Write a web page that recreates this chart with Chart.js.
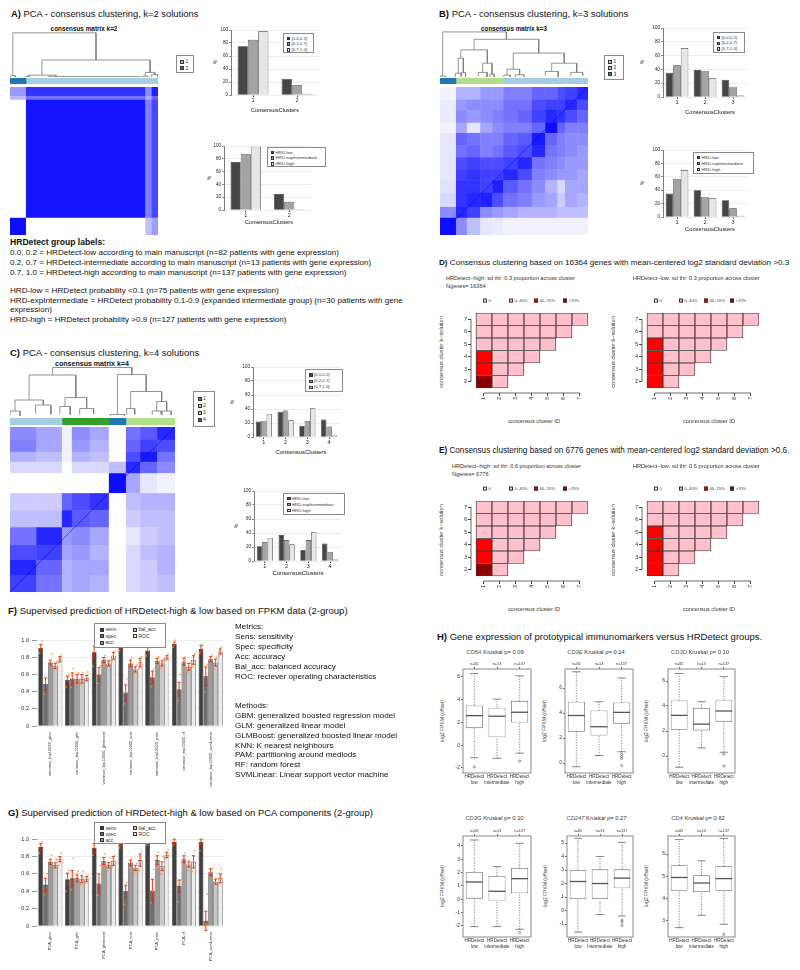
<!DOCTYPE html>
<html>
<head>
<meta charset="utf-8">
<title>PCA consensus clustering and HRDetect prediction</title>
<script src="https://cdn.jsdelivr.net/npm/chart.js@4.4.1/dist/chart.umd.min.js"></script>
<style>
  body { margin: 0; background: #fff; }
  #page { position: relative; width: 800px; height: 970px; overflow: hidden; background: #fff;
          font-family: "Liberation Sans", Arial, Helvetica, sans-serif; color: #111; }
  #page canvas { position: absolute; }
  .t { position: absolute; white-space: nowrap; line-height: 1.15; }
  .lg { position: absolute; border: 0.8px solid #8a8a8a; background: #fff; box-sizing: border-box; }
  .li { position: absolute; white-space: nowrap; line-height: 1; display: flex; align-items: center; color: #333; }
  .sw { display: inline-block; box-sizing: border-box; border: 0.6px solid #333; margin-right: 1.5px; }
</style>
</head>
<body>
<div id="page"></div>
<script>
// ---------------- data ----------------
const nSamples = 232;

const hrdBins = ['[0.0,0.2)', '[0.2,0.7)', '[0.7,1.0]'];
const hrdGroups = ['HRD-low', 'HRD-expIntermediate', 'HRD-high'];
const pctTicks = [0, 20, 40, 60, 80, 100];

// A) k=2
const clustersK2 = ['1', '2'];
const aBinPct = [[75, 25], [85, 15], [98, 2]];
const aGroupPct = [[75, 25], [87, 13], [99, 1]];
const aSegSizes = [25, 207];
const aSegCluster = ['2', '1'];
const aRowBreaks = [0, 14, 20, 205, 232];
const aColBreaks = [0, 25, 212, 222, 232];
const aConsensus = [
  [0.40, 0.80, 0.45, 0.88],
  [0.28, 0.55, 0.35, 0.60],
  [0.00, 0.92, 0.50, 0.72],
  [0.95, 0.00, 0.25, 0.38]
];
// merges: [left x, left height, right x, right height, merge height]
const aDendro = [
  [4.5, 0.03, 134.8, 0.37, 0.96], [50, 0.04, 219.6, 0.10, 0.37], [1, 0, 8, 0, 0.03],
  [28, 0.01, 72, 0.015, 0.04], [25, 0, 31, 0, 0.01], [60, 0, 84, 0, 0.015],
  [85, 0, 205, 0, 0.008], [212, 0.02, 227.2, 0.05, 0.10], [208, 0, 216, 0, 0.02], [222, 0, 232, 0, 0.05]
];

// B) k=3
const clustersK3 = ['1', '2', '3'];
const bBinPct = [[35, 39, 25], [46, 38, 15], [71, 27, 2]];
const bGroupPct = [[35, 40, 25], [57, 30, 13], [70, 28, 2]];
const bSegSizes = [25, 74, 133];
const bSegCluster = ['3', '2', '1'];
const bRowBreaks = [0, 20, 36, 56, 72, 91, 110, 129, 146, 166, 188, 205, 232];
const bColBreaks = [0, 25, 42, 63, 82, 99, 122, 144, 165, 184, 196, 215, 232];
const bConsensus = [
  [0.05, 0.30, 0.30, 0.40, 0.40, 0.50, 0.50, 0.60, 0.60, 0.70, 0.75, 0.85],
  [0.08, 0.40, 0.45, 0.45, 0.45, 0.55, 0.55, 0.70, 0.75, 0.75, 0.85, 0.70],
  [0.08, 0.45, 0.40, 0.45, 0.50, 0.55, 0.60, 0.75, 0.85, 0.80, 0.70, 0.60],
  [0.05, 0.35, 0.10, 0.35, 0.45, 0.50, 0.50, 0.60, 0.95, 0.60, 0.50, 0.50],
  [0.10, 0.60, 0.55, 0.50, 0.50, 0.60, 0.65, 0.90, 0.60, 0.50, 0.45, 0.45],
  [0.10, 0.55, 0.60, 0.50, 0.55, 0.65, 0.70, 0.85, 0.55, 0.50, 0.45, 0.40],
  [0.10, 0.70, 0.75, 0.70, 0.70, 0.75, 0.85, 0.55, 0.50, 0.45, 0.40, 0.40],
  [0.10, 0.75, 0.80, 0.75, 0.75, 0.85, 0.70, 0.50, 0.45, 0.40, 0.40, 0.35],
  [0.12, 0.80, 0.80, 0.75, 0.88, 0.65, 0.55, 0.45, 0.30, 0.15, 0.35, 0.35],
  [0.15, 0.80, 0.85, 0.88, 0.70, 0.55, 0.50, 0.40, 0.35, 0.20, 0.35, 0.30],
  [0.45, 0.85, 0.75, 0.45, 0.40, 0.35, 0.30, 0.30, 0.30, 0.25, 0.25, 0.25],
  [0.95, 0.45, 0.25, 0.10, 0.08, 0.05, 0.05, 0.05, 0.05, 0.05, 0.05, 0.05]
];
const bDendro = [
  [4.2, 0.02, 104.1, 0.82, 0.98], [53.4, 0.59, 154.8, 0.52, 0.82], [32.6, 0.41, 74.2, 0.30, 0.59],
  [114.9, 0.17, 194.7, 0.30, 0.52], [28.7, 0.08, 36.5, 0.10, 0.41], [66.9, 0.10, 81.5, 0.06, 0.30],
  [105, 0.04, 124.8, 0.05, 0.17], [175.1, 0.12, 214.3, 0.10, 0.30], [0, 0, 8.4, 0, 0.02],
  [24, 0, 33.4, 0.02, 0.08], [33, 0, 40, 0, 0.10], [60, 0.02, 73.8, 0, 0.10], [78, 0, 85, 0, 0.06],
  [100, 0, 110, 0, 0.04], [118, 0, 131.6, 0.01, 0.05], [165, 0.03, 185.2, 0, 0.12], [205, 0.02, 223.6, 0.03, 0.10]
];

// C) k=4
const clustersK4 = ['1', '2', '3', '4'];
const cBinPct = [[22, 36, 16, 25], [23, 38, 23, 15], [33, 24, 41, 2]];
const cGroupPct = [[21, 37, 16, 25], [27, 30, 30, 13], [33, 24, 41, 2]];
const cSegSizes = [73, 66, 24, 69];
const cSegCluster = ['3', '1', '4', '2'];
const cRowBreaks = [0, 18, 35, 49, 65, 93, 117, 141, 166, 187, 208, 232];
const cColBreaks = [0, 37, 73, 87, 112, 139, 163, 183, 207, 232];
const cConsensus = [
  [0.45, 0.35, 0.05, 0.45, 0.35, 0.00, 0.55, 0.65, 0.85],
  [0.50, 0.35, 0.05, 0.40, 0.30, 0.00, 0.60, 0.75, 0.70],
  [0.30, 0.25, 0.05, 0.30, 0.25, 0.00, 0.70, 0.90, 0.55],
  [0.15, 0.15, 0.00, 0.15, 0.15, 0.25, 0.85, 0.60, 0.45],
  [0.00, 0.00, 0.00, 0.00, 0.00, 0.95, 0.35, 0.10, 0.05],
  [0.20, 0.20, 0.60, 0.70, 0.80, 0.00, 0.25, 0.30, 0.30],
  [0.25, 0.25, 0.85, 0.65, 0.60, 0.00, 0.20, 0.25, 0.25],
  [0.55, 0.85, 0.40, 0.45, 0.35, 0.00, 0.10, 0.20, 0.25],
  [0.70, 0.75, 0.35, 0.40, 0.30, 0.00, 0.15, 0.25, 0.30],
  [0.85, 0.60, 0.30, 0.35, 0.35, 0.00, 0.15, 0.20, 0.30],
  [0.75, 0.55, 0.30, 0.35, 0.30, 0.00, 0.15, 0.20, 0.25]
];
const cDendro = [
  [59.8, 0.82, 171.3, 0.83, 0.97], [26.9, 0.32, 92.6, 0.37, 0.82], [151, 0.03, 191.5, 0.49, 0.83],
  [7, 0.10, 46.8, 0.22, 0.32], [77.3, 0.19, 107.8, 0.15, 0.37], [169.7, 0.15, 213.3, 0.29, 0.49],
  [206.3, 0.10, 220.3, 0.10, 0.29], [0, 0.02, 14, 0, 0.10], [36, 0.05, 57.6, 0.03, 0.22],
  [70, 0.04, 84.6, 0.02, 0.19], [98, 0.03, 117.6, 0.04, 0.15], [141, 0, 161, 0, 0.03],
  [164, 0.02, 175.4, 0.03, 0.15], [200, 0.02, 212.6, 0.03, 0.10], [214, 0.01, 226.6, 0.02, 0.10]
];

// D / E) proportion of each group per consensus cluster, rows k = 2..7
const kSolutions = [2, 3, 4, 5, 6, 7];
const clusterIds = [1, 2, 3, 4, 5, 6, 7];
const propBins = ['0', '0\u201340%', '40\u201370%', '>70%'];
const dHighProp = [
  [0.80, 0.20], [0.62, 0.25, 0.13], [0.55, 0.20, 0.15, 0.10], [0.35, 0.25, 0.20, 0.10, 0.10],
  [0.30, 0.20, 0.15, 0.15, 0.10, 0.10], [0.25, 0.20, 0.15, 0.10, 0.10, 0.10, 0.10]
];
const dLowProp = [
  [0.68, 0.32], [0.60, 0.25, 0.15], [0.52, 0.22, 0.14, 0.12], [0.45, 0.20, 0.15, 0.10, 0.10],
  [0.35, 0.20, 0.15, 0.12, 0.10, 0.08], [0.30, 0.18, 0.15, 0.12, 0.10, 0.08, 0.07]
];
const eHighProp = [
  [0.78, 0.22], [0.60, 0.26, 0.14], [0.52, 0.22, 0.16, 0.10], [0.36, 0.24, 0.20, 0.10, 0.10],
  [0.30, 0.20, 0.16, 0.14, 0.10, 0.10], [0.26, 0.20, 0.14, 0.10, 0.10, 0.10, 0.10]
];
const eLowProp = [
  [0.66, 0.34], [0.58, 0.26, 0.16], [0.50, 0.22, 0.16, 0.12], [0.44, 0.22, 0.14, 0.10, 0.10],
  [0.34, 0.22, 0.15, 0.11, 0.10, 0.08], [0.30, 0.18, 0.15, 0.12, 0.10, 0.08, 0.07]
];

// F / G) supervised prediction, metric x method
const metricNames = ['sens', 'spec', 'acc', 'bal_acc', 'ROC'];
const perfTicks = [0, 0.1, 0.2, 0.3, 0.4, 0.5, 0.6, 0.7, 0.8, 0.9, 1];
const methodsF = ['variance_top10000_gbm', 'variance_top10000_glm', 'variance_top10000_glmboost',
  'variance_top10000_knn', 'variance_top10000_pam', 'variance_top10000_rf', 'variance_top10000_svmLinear'];
const fMeans = [
  [0.91, 0.54, 0.86, 0.93, 0.88, 0.96, 0.90],
  [0.49, 0.55, 0.60, 0.39, 0.57, 0.43, 0.58],
  [0.74, 0.55, 0.77, 0.73, 0.76, 0.75, 0.78],
  [0.70, 0.55, 0.73, 0.66, 0.73, 0.69, 0.74],
  [0.78, 0.56, 0.82, 0.74, 0.80, 0.77, 0.87]
];
const fErr = [
  [0.04, 0.04, 0.07, 0.03, 0.04, 0.02, 0.04],
  [0.07, 0.07, 0.08, 0.09, 0.07, 0.08, 0.11],
  [0.03, 0.05, 0.03, 0.04, 0.03, 0.04, 0.03],
  [0.03, 0.05, 0.03, 0.03, 0.03, 0.04, 0.04],
  [0.03, 0.03, 0.04, 0.05, 0.02, 0.05, 0.03]
];
const fFolds = [
  [[0.85, 0.93, 0.99], [0.46, 0.55, 0.60], [0.70, 0.90, 0.97], [0.88, 0.95, 0.98], [0.82, 0.90, 0.93], [0.92, 0.97, 1.0], [0.85, 0.91, 0.95]],
  [[0.37, 0.52, 0.57], [0.45, 0.60, 0.67], [0.50, 0.62, 0.70], [0.26, 0.40, 0.55], [0.46, 0.58, 0.66], [0.30, 0.45, 0.60], [0.40, 0.60, 0.72]],
  [[0.71, 0.76, 0.84], [0.48, 0.57, 0.62], [0.72, 0.78, 0.82], [0.66, 0.74, 0.80], [0.71, 0.77, 0.81], [0.65, 0.76, 0.80], [0.73, 0.79, 0.83]],
  [[0.66, 0.71, 0.75], [0.49, 0.56, 0.62], [0.69, 0.74, 0.77], [0.61, 0.66, 0.71], [0.67, 0.74, 0.78], [0.62, 0.70, 0.74], [0.66, 0.75, 0.80]],
  [[0.74, 0.79, 0.83], [0.52, 0.57, 0.63], [0.76, 0.83, 0.87], [0.67, 0.75, 0.81], [0.77, 0.80, 0.84], [0.69, 0.78, 0.84], [0.82, 0.88, 0.92]]
];
const methodsG = ['PCA_gbm', 'PCA_glm', 'PCA_glmboost', 'PCA_knn', 'PCA_pam', 'PCA_rf', 'PCA_svmLinear'];
const gMeans = [
  [0.91, 0.54, 0.90, 0.95, 0.96, 0.97, 0.97],
  [0.48, 0.55, 0.49, 0.40, 0.41, 0.46, 0.06],
  [0.74, 0.55, 0.75, 0.73, 0.76, 0.77, 0.62],
  [0.70, 0.54, 0.70, 0.67, 0.69, 0.71, 0.51],
  [0.77, 0.54, 0.75, 0.76, 0.82, 0.74, 0.55]
];
const gErr = [
  [0.04, 0.07, 0.05, 0.03, 0.03, 0.03, 0.03],
  [0.07, 0.09, 0.11, 0.07, 0.13, 0.07, 0.11],
  [0.03, 0.04, 0.04, 0.03, 0.05, 0.04, 0.04],
  [0.03, 0.04, 0.03, 0.03, 0.05, 0.03, 0.03],
  [0.03, 0.03, 0.05, 0.07, 0.03, 0.07, 0.05]
];
const gFolds = [
  [[0.84, 0.92, 0.97], [0.40, 0.55, 0.64], [0.82, 0.92, 0.99], [0.90, 0.96, 1.0], [0.93, 0.97, 1.0], [0.93, 0.98, 1.0], [0.87, 0.98, 1.0]],
  [[0.36, 0.50, 0.60], [0.42, 0.57, 0.78], [0.36, 0.50, 0.70], [0.25, 0.42, 0.50], [0.27, 0.40, 0.65], [0.28, 0.47, 0.53], [0.0, 0.02, 0.37]],
  [[0.70, 0.75, 0.82], [0.48, 0.56, 0.63], [0.69, 0.76, 0.83], [0.68, 0.74, 0.78], [0.66, 0.77, 0.85], [0.71, 0.78, 0.84], [0.55, 0.62, 0.66]],
  [[0.66, 0.71, 0.77], [0.48, 0.55, 0.63], [0.64, 0.71, 0.78], [0.62, 0.67, 0.72], [0.60, 0.70, 0.80], [0.64, 0.71, 0.75], [0.48, 0.51, 0.55]],
  [[0.70, 0.78, 0.84], [0.50, 0.55, 0.59], [0.68, 0.76, 0.81], [0.64, 0.77, 0.86], [0.78, 0.83, 0.88], [0.63, 0.75, 0.87], [0.49, 0.55, 0.66]]
];

// H) boxplots: per group [lower whisker, Q1, median, Q3, upper whisker]
const hGroups = [['HRDetect', 'low'], ['HRDetect', 'intermediate'], ['HRDetect', 'high']];
const hGroupN = ['n=82', 'n=13', 'n=137'];
const cd8aStats = [[-1.1, 1.5, 2.6, 3.5, 6.3], [-1.15, 0.7, 2.55, 3.3, 4.05], [-0.7, 2.0, 2.9, 3.9, 6.1]];
const cd8aOut = [[-1.9], [], [-1.4]];
const cd8aTicks = [-2, 0, 2, 4, 6];
const cd3eStats = [[-0.3, 2.5, 3.8, 4.9, 7.3], [0.6, 2.2, 2.9, 4.2, 4.9], [0.9, 3.15, 4.05, 4.85, 6.8]];
const cd3eOut = [[], [], [0.7, 0.5, 0.35, -0.2]];
const cd3eTicks = [0, 2, 4, 6];
const cd3dStats = [[-0.9, 2.1, 3.25, 4.45, 6.6], [0.65, 2.05, 2.55, 3.85, 4.35], [0.3, 2.75, 3.6, 4.5, 6.35]];
const cd3dOut = [[], [], [0.15, -0.8]];
const cd3dTicks = [0, 2, 4, 6];
const cd3gStats = [[-2.05, 0.05, 1.3, 2.05, 4.45], [-2.05, -0.1, 0.6, 1.75, 2.45], [-2.25, 0.45, 1.55, 2.35, 4.2]];
const cd3gOut = [[], [], [-2.5]];
const cd3gTicks = [-2, -1, 0, 1, 2, 3, 4];
const cd247Stats = [[-1.6, 0.85, 2.15, 3.0, 5.35], [-0.3, 0.85, 2.0, 3.05, 4.0], [-0.4, 1.65, 2.4, 3.05, 5.05]];
const cd247Out = [[], [], [-0.7, -0.85, -1.1]];
const cd247Ticks = [-1, 0, 1, 2, 3, 4, 5];
const cd4Stats = [[2.7, 4.35, 4.95, 5.5, 6.65], [3.25, 4.3, 4.7, 5.05, 5.7], [2.85, 4.35, 4.9, 5.45, 6.7]];
const cd4Out = [[], [], [2.4]];
const cd4Ticks = [3, 4, 5, 6];

// ---------------- styles ----------------
const clusterColours = { '1': '#a6cee3', '2': '#1f78b4' };
const clusterColoursK3 = { '1': '#a6cee3', '2': '#b2df8a', '3': '#1f78b4' };
const clusterColoursK4 = { '1': '#33a02c', '2': '#b2df8a', '3': '#a6cee3', '4': '#1f78b4' };
const barGreys = ['#464646', '#a4a4a4', '#e6e6e6'];
const metricColours = ['#404040', '#6e6e6e', '#9c9c9c', '#c9c9c9', '#ececec'];
const binColours = ['#ffffff', '#ffc0cb', '#ff0000', '#8b0000'];
const binColour = p => p === 0 ? binColours[0] : p <= 0.4 ? binColours[1] : p <= 0.7 ? binColours[2] : binColours[3];

// ---------------- helpers ----------------
const page = document.getElementById('page');
Chart.defaults.font.family = '"Liberation Sans", Arial, sans-serif';
Chart.defaults.color = '#222';
const zero = { l: 0, t: 0, r: 0, b: 0 };

function mk(box, m) {
  const c = document.createElement('canvas');
  const w = box[2] - box[0] + m.l + m.r;
  const h = box[3] - box[1] + m.t + m.b;
  c.width = w; c.height = h;
  c.style.width = w + 'px'; c.style.height = h + 'px';
  c.style.left = (box[0] - m.l) + 'px';
  c.style.top = (box[1] - m.t) + 'px';
  page.appendChild(c);
  return c;
}

// fixed plot area: padding + fixed axis sizes, no automatic label padding
function base(m) {
  return {
    responsive: false, animation: false, events: [],
    layout: { autoPadding: false, padding: { left: 0, right: m.r, top: m.t, bottom: 0 } },
    plugins: { legend: { display: false }, tooltip: { enabled: false } }
  };
}

function txt(html, x, y, size, o = {}) {
  const d = document.createElement('div');
  d.className = 't';
  d.innerHTML = html;
  d.style.fontSize = size + 'px';
  if (o.bold) d.style.fontWeight = 'bold';
  if (o.color) d.style.color = o.color;
  page.appendChild(d);
  if (o.w) d.style.fontSize = (size * o.w / d.getBoundingClientRect().width) + 'px';
  const ax = o.anchor === 'middle' ? '-50%' : o.anchor === 'end' ? '-100%' : '0';
  d.style.left = x + 'px';
  d.style.top = y + 'px';
  d.style.transform = `translate(${ax},-50%)` + (o.rot ? ` rotate(${o.rot}deg)` : '');
  return d;
}

function legend(x, y, w, h, labels, colours, o) {
  const d = document.createElement('div');
  d.className = 'lg';
  Object.assign(d.style, { left: x + 'px', top: y + 'px', width: w + 'px', height: h + 'px' });
  labels.forEach((lab, i) => {
    const e = document.createElement('div');
    e.className = 'li';
    const col = Math.floor(i / o.rows), row = i % o.rows;
    e.style.left = (o.padL + col * (o.colW || 0)) + 'px';
    e.style.top = (o.padT + row * o.rowH) + 'px';
    e.style.fontSize = o.fs + 'px';
    e.innerHTML = `<span class="sw" style="width:${o.sw}px;height:${o.sw}px;background:${colours[i]}"></span>${lab}`;
    d.appendChild(e);
  });
  page.appendChild(d);
}

function heatmap(box, rowBreaks, colBreaks, vals, diag) {
  const c = mk(box, zero);
  const cells = {
    id: 'cells',
    beforeDatasetsDraw(chart) {
      const { ctx, scales: { x, y } } = chart;
      ctx.save();
      vals.forEach((row, i) => row.forEach((v, j) => {
        const x0 = x.getPixelForValue(colBreaks[j]), x1 = x.getPixelForValue(colBreaks[j + 1]);
        const y0 = y.getPixelForValue(rowBreaks[i]), y1 = y.getPixelForValue(rowBreaks[i + 1]);
        const g = Math.round(255 * (1 - v));
        ctx.fillStyle = `rgb(${g},${g},255)`;
        ctx.fillRect(x0, y0, x1 - x0 + 0.5, y1 - y0 + 0.5);
      }));
      ctx.restore();
    }
  };
  new Chart(c, {
    type: 'scatter',
    data: { datasets: diag ? [{ data: [{ x: 0, y: nSamples }, { x: nSamples, y: 0 }], showLine: true,
      borderColor: 'rgba(0,0,235,0.55)', borderWidth: 1, pointRadius: 0 }] : [] },
    options: Object.assign(base(zero), { scales: {
      x: { display: false, min: 0, max: nSamples },
      y: { display: false, min: 0, max: nSamples, reverse: true } } }),
    plugins: [cells]
  });
}

function colourBar(box, sizes, clusters, palette) {
  const c = mk(box, zero);
  new Chart(c, {
    type: 'bar',
    data: { labels: [''], datasets: sizes.map((s, i) => ({ data: [s], backgroundColor: palette[clusters[i]],
      barPercentage: 1, categoryPercentage: 1 })) },
    options: Object.assign(base(zero), { indexAxis: 'y', scales: {
      x: { display: false, stacked: true, min: 0, max: nSamples },
      y: { display: false, stacked: true } } })
  });
}

function dendro(box, merges) {
  const c = mk(box, zero);
  new Chart(c, {
    type: 'scatter',
    data: { datasets: merges.map(([xl, hl, xr, hr, h]) => ({
      data: [{ x: xl, y: hl }, { x: xl, y: h }, { x: xr, y: h }, { x: xr, y: hr }],
      showLine: true, borderColor: '#7a7a7a', borderWidth: 0.8, pointRadius: 0, clip: 2 })) },
    options: Object.assign(base(zero), { scales: {
      x: { display: false, min: 0, max: nSamples },
      y: { display: false, min: 0, max: 1 } } })
  });
}

function pctChart(box, clusters, series, cp) {
  const m = { l: 14, t: 4, r: 3, b: 8 };
  const c = mk(box, m);
  new Chart(c, {
    type: 'bar',
    data: { labels: clusters, datasets: series.map((d, i) => ({ data: d, backgroundColor: barGreys[i],
      borderColor: '#333', borderWidth: 0.7, barPercentage: 1, categoryPercentage: cp })) },
    options: Object.assign(base(m), { scales: {
      x: { grid: { drawOnChartArea: false, offset: false, tickLength: 2, color: '#444' }, border: { display: false },
           ticks: { font: { size: 5.5 }, color: '#222', padding: 0 }, afterFit: s => { s.height = m.b; } },
      y: { min: 0, max: 100, afterBuildTicks: s => { s.ticks = pctTicks.map(v => ({ value: v })); },
           ticks: { font: { size: 4.5 }, color: '#222', padding: 1 },
           grid: { color: '#e0e0e0', lineWidth: 0.6, tickColor: '#444', tickLength: 2 },
           border: { display: true, color: '#444', width: 0.7 }, afterFit: s => { s.width = m.l; } } } })
  });
}

// R-style axis lines spanning only the first to the last tick
const rAxes = {
  id: 'rAxes',
  afterDraw(chart) {
    const { ctx, chartArea: a, scales: { x, y } } = chart;
    ctx.save();
    ctx.strokeStyle = '#444'; ctx.lineWidth = 0.8;
    ctx.beginPath();
    ctx.moveTo(a.left, y.getPixelForValue(kSolutions[0])); ctx.lineTo(a.left, y.getPixelForValue(kSolutions[kSolutions.length - 1]));
    ctx.moveTo(x.getPixelForValue(clusterIds[0]), a.bottom); ctx.lineTo(x.getPixelForValue(clusterIds[clusterIds.length - 1]), a.bottom);
    ctx.stroke();
    ctx.restore();
  }
};

function tileChart(box, props) {
  const m = { l: 10, t: 3, r: 3, b: 9 };
  const c = mk(box, m);
  const ds = kSolutions.map((k, ri) => ({
    data: props[ri].map((p, ci) => ({ x: clusterIds[ci], y: [k - 0.5, k + 0.5] })),
    backgroundColor: props[ri].map(binColour),
    borderColor: '#3a3a3a', borderWidth: 0.9, borderSkipped: false,
    grouped: false, barPercentage: 1, categoryPercentage: 1
  }));
  new Chart(c, {
    type: 'bar',
    data: { datasets: ds },
    options: Object.assign(base(m), { scales: {
      x: { type: 'linear', min: 0.19, max: 7.5, offset: false,
           grid: { offset: false, drawOnChartArea: false, tickLength: 3, color: '#444' }, border: { display: false },
           afterBuildTicks: s => { s.ticks = clusterIds.map(v => ({ value: v })); },
           ticks: { font: { size: 5 }, color: '#222', minRotation: 90, maxRotation: 90, padding: 1 },
           afterFit: s => { s.height = m.b; } },
      y: { min: 1.1, max: 7.5, grid: { drawOnChartArea: false, tickLength: 3, color: '#444' }, border: { display: false },
           afterBuildTicks: s => { s.ticks = kSolutions.map(v => ({ value: v })); },
           ticks: { font: { size: 5 }, color: '#222', padding: 1 }, afterFit: s => { s.width = m.l; } } } }),
    plugins: [rAxes]
  });
}

function perfChart(box, methods, means, errs, folds) {
  const m = { l: 22, t: 6, r: 3, b: 62 };
  const c = mk(box, m);
  const marks = {
    id: 'marks',
    afterDatasetsDraw(chart) {
      const { ctx, scales: { y } } = chart;
      ctx.save();
      means.forEach((row, i) => {
        const meta = chart.getDatasetMeta(i);
        row.forEach((v, j) => {
          const x = meta.data[j].x;
          const lo = y.getPixelForValue(v - errs[i][j]), hi = y.getPixelForValue(v + errs[i][j]);
          ctx.strokeStyle = '#e8200c'; ctx.lineWidth = 0.9;
          ctx.beginPath();
          ctx.moveTo(x, lo); ctx.lineTo(x, hi);
          ctx.moveTo(x - 1.6, lo); ctx.lineTo(x + 1.6, lo);
          ctx.moveTo(x - 1.6, hi); ctx.lineTo(x + 1.6, hi);
          ctx.stroke();
          ctx.fillStyle = 'rgba(255,150,30,0.85)';
          folds[i][j].forEach((p, k) => {
            ctx.beginPath();
            ctx.arc(x + (k - 1) * 1.2, y.getPixelForValue(p), 0.9, 0, Math.PI * 2);
            ctx.fill();
          });
        });
      });
      ctx.restore();
    }
  };
  new Chart(c, {
    type: 'bar',
    data: { labels: methods, datasets: means.map((d, i) => ({ data: d, backgroundColor: metricColours[i],
      borderColor: '#222', borderWidth: 0.6, barPercentage: 1, categoryPercentage: 0.9 })) },
    options: Object.assign(base(m), { scales: {
      x: { grid: { display: false, drawTicks: false }, border: { display: false },
           ticks: { font: { size: 4 }, color: '#333', minRotation: 90, maxRotation: 90, autoSkip: false, padding: 6 },
           afterFit: s => { s.height = m.b; } },
      y: { min: 0, max: 1, afterBuildTicks: s => { s.ticks = perfTicks.map(v => ({ value: v })); },
           ticks: { font: { size: 5.5 }, color: '#222', padding: 3 },
           grid: { color: '#e2e2e2', lineWidth: 0.6, drawTicks: true, tickLength: 5, tickColor: '#555' },
           border: { display: false }, afterFit: s => { s.width = m.l; } } } }),
    plugins: [marks]
  });
}

function boxChart(box, stats, outl, yMin, yMax, ticks) {
  const m = { l: 12, t: 9, r: 2, b: 17 };
  const c = mk(box, m);
  const o = base(m);
  o.layout.padding.top = 2;
  const parts = {
    id: 'parts',
    afterDatasetsDraw(chart) {
      const { ctx, chartArea: a, scales: { y } } = chart;
      const meta = chart.getDatasetMeta(0);
      const line = (x0, y0, x1, y1) => { ctx.beginPath(); ctx.moveTo(x0, y0); ctx.lineTo(x1, y1); ctx.stroke(); };
      ctx.save();
      stats.forEach((s, i) => {
        const x = meta.data[i].x, hw = meta.data[i].width / 2;
        const py = v => y.getPixelForValue(v);
        ctx.strokeStyle = '#555'; ctx.lineWidth = 0.7;
        ctx.setLineDash([1.2, 1.4]);
        line(x, py(s[0]), x, py(s[1]));
        line(x, py(s[3]), x, py(s[4]));
        ctx.setLineDash([]);
        line(x - hw / 2, py(s[0]), x + hw / 2, py(s[0]));
        line(x - hw / 2, py(s[4]), x + hw / 2, py(s[4]));
        ctx.lineWidth = 1.3;
        line(x - hw, py(s[2]), x + hw, py(s[2]));
        ctx.lineWidth = 0.6;
        outl[i].forEach(v => { ctx.beginPath(); ctx.arc(x, py(v), 1.1, 0, Math.PI * 2); ctx.stroke(); });
      });
      ctx.strokeStyle = '#8a8a8a'; ctx.lineWidth = 1;
      ctx.strokeRect(a.left, a.top, a.width, a.height);
      ctx.restore();
    }
  };
  new Chart(c, {
    type: 'bar',
    data: { labels: hGroups, datasets: [{ data: stats.map(s => [s[1], s[3]]), backgroundColor: '#fff',
      borderColor: '#666', borderWidth: 0.8, borderSkipped: false, barPercentage: 0.75, categoryPercentage: 1 }] },
    options: Object.assign(o, { scales: {
      x: { grid: { display: false, drawTicks: false }, border: { display: false },
           ticks: { font: { size: 4.6, lineHeight: 1.15 }, color: '#333', padding: 1.5, autoSkip: false, maxRotation: 0 },
           afterFit: s => { s.height = m.b; } },
      x2: { type: 'category', labels: hGroupN, position: 'top', offset: true,
            grid: { drawOnChartArea: false, offset: false, tickLength: 2, color: '#666' }, border: { display: false },
            ticks: { font: { size: 3.8 }, color: '#333', padding: 1, autoSkip: false, maxRotation: 0 },
            afterFit: s => { s.height = 7; } },
      y: { min: yMin, max: yMax, afterBuildTicks: s => { s.ticks = ticks.map(v => ({ value: v })); },
           ticks: { font: { size: 5 }, color: '#333', padding: 1 },
           grid: { drawOnChartArea: false, tickLength: 2, color: '#666' }, border: { display: false },
           afterFit: s => { s.width = m.l; } } } }),
    plugins: [parts]
  });
}

// ---------------- A ----------------
txt('<b>A)</b> PCA - consensus clustering, k=2 solutions', 11, 13.5, 9.4, { w: 187 });
txt('consensus matrix k=2', 84, 29, 6, { bold: true, anchor: 'middle', w: 67 });
dendro([10, 31, 158, 77], aDendro);
colourBar([10, 78, 158, 84], aSegSizes, aSegCluster, clusterColours);
heatmap([10, 87, 158, 235], aRowBreaks, aColBreaks, aConsensus, false);
legend(176, 55, 18, 18, clustersK2, clustersK2.map(k => clusterColours[k]), { rows: 2, rowH: 6.5, padL: 3, padT: 3, fs: 5, sw: 4 });
pctChart([231, 30, 319, 95], clustersK2, aBinPct, 0.7);
legend(283, 33, 31, 20, hrdBins, barGreys, { rows: 3, rowH: 5.6, padL: 2.5, padT: 2.5, fs: 4.3, sw: 3.5 });
txt('%', 216, 62, 5, { anchor: 'middle', rot: -90 });
txt('ConsensusClusters', 275, 110, 6, { anchor: 'middle', w: 48 });
pctChart([224, 146, 311, 210], clustersK2, aGroupPct, 0.7);
legend(267, 147, 59, 20, hrdGroups, barGreys, { rows: 3, rowH: 5.6, padL: 2.5, padT: 2.5, fs: 4.3, sw: 3.5 });
txt('%', 210, 178, 5, { anchor: 'middle', rot: -90 });
txt('ConsensusClusters', 269, 222, 6, { anchor: 'middle', w: 48 });

txt('HRDetect group labels:', 10, 242.5, 8.6, { bold: true });
txt('0.0, 0.2 = HRDetect-low according to main manuscript (n=82 patients with gene expression)', 10, 253, 8.1);
txt('0.2, 0.7 = HRDetect-intermediate according to main manuscript (n=13 patients with gene expression)', 10, 263, 8.1);
txt('0.7, 1.0 = HRDetect-high according to main manuscript (n=137 patients with gene expression)', 10, 273, 8.1);
txt('HRD-low = HRDetect probability &lt;0.1 (n=75 patients with gene expression)', 10, 291, 8.1);
txt('HRD-expIntermediate = HRDetect probability 0.1-0.9 (expanded intermediate group) (n=30 patients with gene', 10, 300.5, 8.1);
txt('expression)', 10, 310, 8.1);
txt('HRD-high = HRDetect probability &gt;0.9 (n=127 patients with gene expression)', 10, 319.5, 8.1);

// ---------------- B ----------------
txt('<b>B)</b> PCA - consensus clustering, k=3 solutions', 439, 13.5, 9.4, { w: 189 });
txt('consensus matrix k=3', 514, 29, 6, { bold: true, anchor: 'middle', w: 66 });
dendro([440, 31, 588, 77], bDendro);
colourBar([440, 78, 588, 84], bSegSizes, bSegCluster, clusterColoursK3);
heatmap([440, 87, 588, 235], bRowBreaks, bColBreaks, bConsensus, true);
legend(604, 55, 20, 25, clustersK3, clustersK3.map(k => clusterColoursK3[k]), { rows: 3, rowH: 6.3, padL: 3, padT: 3, fs: 5, sw: 4 });
pctChart([663, 28, 747, 97], clustersK3, bBinPct, 0.81);
legend(713, 32, 32, 21, hrdBins, barGreys, { rows: 3, rowH: 5.8, padL: 2.5, padT: 2.5, fs: 4.3, sw: 3.5 });
txt('%', 643, 62, 5, { anchor: 'middle', rot: -90 });
txt('ConsensusClusters', 710, 112, 6, { anchor: 'middle', w: 50 });
pctChart([663, 150, 747, 217], clustersK3, bGroupPct, 0.81);
legend(693, 152, 61, 22, hrdGroups, barGreys, { rows: 3, rowH: 6, padL: 2.5, padT: 2.5, fs: 4.3, sw: 3.5 });
txt('%', 643, 183, 5, { anchor: 'middle', rot: -90 });
txt('ConsensusClusters', 710, 229, 6, { anchor: 'middle', w: 50 });

// ---------------- C ----------------
txt('<b>C)</b> PCA - consensus clustering, k=4 solutions', 10, 353, 9.4, { w: 189 });
txt('consensus matrix k=4', 92, 364, 6, { bold: true, anchor: 'middle', w: 74 });
dendro([10, 366, 175, 416], cDendro);
colourBar([10, 418, 175, 425], cSegSizes, cSegCluster, clusterColoursK4);
heatmap([10, 427, 175, 592], cRowBreaks, cColBreaks, cConsensus, true);
legend(193, 391, 22, 36, clustersK4, clustersK4.map(k => clusterColoursK4[k]), { rows: 4, rowH: 7, padL: 3.5, padT: 4, fs: 5, sw: 4 });
pctChart([253, 367, 340, 437], clustersK4, cBinPct, 0.74);
legend(305, 369, 38, 23, hrdBins, barGreys, { rows: 3, rowH: 6.2, padL: 3, padT: 3, fs: 4.3, sw: 3.5 });
txt('%', 233, 402, 5, { anchor: 'middle', rot: -90 });
txt('ConsensusClusters', 301, 452, 6, { anchor: 'middle', w: 51 });
pctChart([254, 491, 341, 561], clustersK4, cGroupPct, 0.74);
legend(283, 493, 62, 22, hrdGroups, barGreys, { rows: 3, rowH: 6, padL: 3, padT: 2.5, fs: 4.3, sw: 3.5 });
txt('%', 237, 526, 5, { anchor: 'middle', rot: -90 });
txt('ConsensusClusters', 298, 573, 6, { anchor: 'middle', w: 51 });

// ---------------- D / E ----------------
function tileLegend(xs, y) {
  propBins.forEach((lab, i) => {
    txt(`<span class="sw" style="display:inline-block;width:3.5px;height:3.5px;background:${binColours[i]};margin-right:2px;vertical-align:middle"></span>${lab}`, xs[i], y, 4.2, { color: '#444' });
  });
}
function tilePanel(title, y0, subs, propsL, propsR, ngenes, subX) {
  txt(title, 439, y0, 8.4, { w: 350 });
  txt(subs[0], subX, y0 + 15.3, 5.6, { color: '#333' });
  txt('Ngenes= ' + ngenes, subX, y0 + 23, 5.6, { color: '#333' });
  txt(subs[1], 633, y0 + 15.3, 5.6, { color: '#333' });
  tileLegend([483, 509, 534, 563], y0 + 38);
  tileLegend([654, 679, 704, 730], y0 + 38);
  tileChart([471, y0 + 49, 588, y0 + 130], propsL);
  tileChart([642, y0 + 49, 759, y0 + 130], propsR);
  txt('consensus cluster k\u2212solution', 441, y0 + 89, 5.6, { anchor: 'middle', rot: -90, color: '#333' });
  txt('consensus cluster k\u2212solution', 613, y0 + 89, 5.6, { anchor: 'middle', rot: -90, color: '#333' });
  txt('concensus cluster ID', 534, y0 + 158, 5.6, { anchor: 'middle', color: '#333' });
  txt('concensus cluster ID', 709, y0 + 158, 5.6, { anchor: 'middle', color: '#333' });
}
tilePanel('<b>D)</b> Consensus clustering based on 16364 genes with mean-centered log2 standard deviation &gt;0.3', 263,
  ['HRDetect\u2212high: sd thr: 0.3 proportion across cluster', 'HRDetect\u2212low: sd thr: 0.3 proportion across cluster'],
  dHighProp, dLowProp, 16364, 446);
tilePanel('<b>E)</b> Consensus clustering based on 6776 genes with mean-centered log2 standard deviation &gt;0.6.', 451,
  ['HRDetect\u2212high: sd thr: 0.6 proportion across cluster', 'HRDetect\u2212low: sd thr: 0.6 proportion across cluster'],
  eHighProp, eLowProp, 6776, 452);

// ---------------- F / G ----------------
txt('<b>F)</b> Supervised prediction of HRDetect-high &amp; low based on FPKM data (2-group)', 8, 610, 9.3, { w: 340 });
perfChart([37, 640, 224, 726], methodsF, fMeans, fErr, fFolds);
legend(94, 623, 72, 25, metricNames, metricColours, { rows: 3, colW: 33, rowH: 6.5, padL: 5, padT: 3, fs: 5, sw: 4 });
const metricLines = ['Metrics:', 'Sens: sensitivity', 'Spec: specificity', 'Acc: accuracy', 'Bal_acc: balanced accuracy',
  'ROC: reciever operating characteristics'];
const methodLines = ['Methods:', 'GBM: generalized boosted regression model', 'GLM: generalized linear model',
  'GLMBoost: generalized boosted linear model', 'KNN: K nearest neighbours', 'PAM: partitioning around mediods',
  'RF: random forest', 'SVMLinear: Linear support vector machine'];
metricLines.forEach((s, i) => txt(s, 235, 627.3 + i * 9.9, 8.1));
methodLines.forEach((s, i) => txt(s, 235, 706.3 + i * 9.8, 8.1));

txt('<b>G)</b> Supervised prediction of HRDetect-high &amp; low based on PCA components (2-group)', 8, 813, 9.3, { w: 365 });
perfChart([37, 839, 224, 926], methodsG, gMeans, gErr, gFolds);
legend(94, 822, 72, 22, metricNames, metricColours, { rows: 3, colW: 33, rowH: 6, padL: 5, padT: 2.5, fs: 5, sw: 4 });

// ---------------- H ----------------
txt('<b>H)</b> Gene expression of prototypical immunomarkers versus HRDetect groups.', 437, 637, 9.2, { w: 325 });
const hLabel = (gene, p, cx, cy) => txt(`<i style="color:#555">${gene}</i> Kruskal p= ${p}`, cx, cy, 5.8, { anchor: 'middle', color: '#333' });
hLabel('CD8A', '0.09', 495, 652.3);
hLabel('CD3E', '0.14', 596, 652.3);
hLabel('CD3D', '0.10', 700, 652.3);
hLabel('CD3G', '0.10', 494.5, 818.3);
hLabel('CD247', '0.27', 596.5, 818.3);
hLabel('CD4', '0.62', 698, 818.3);
boxChart([463, 669, 531, 773], cd8aStats, cd8aOut, -2.44, 6.7, cd8aTicks);
boxChart([565, 669, 633, 773], cd3eStats, cd3eOut, -0.8, 7.52, cd3eTicks);
boxChart([668, 669, 735, 773], cd3dStats, cd3dOut, -1.36, 6.96, cd3dTicks);
boxChart([463, 836, 531, 937], cd3gStats, cd3gOut, -2.83, 4.75, cd3gTicks);
boxChart([567, 836, 633, 937], cd247Stats, cd247Out, -1.96, 5.52, cd247Ticks);
boxChart([668, 836, 735, 937], cd4Stats, cd4Out, 2.28, 6.81, cd4Ticks);
[[443, 721], [545, 721], [647, 721], [443, 886], [546, 886], [647, 886]].forEach(([x, y]) =>
  txt('log2 FPKM (offset)', x, y, 5, { anchor: 'middle', rot: -90, color: '#333' }));
</script>
</body>
</html>
